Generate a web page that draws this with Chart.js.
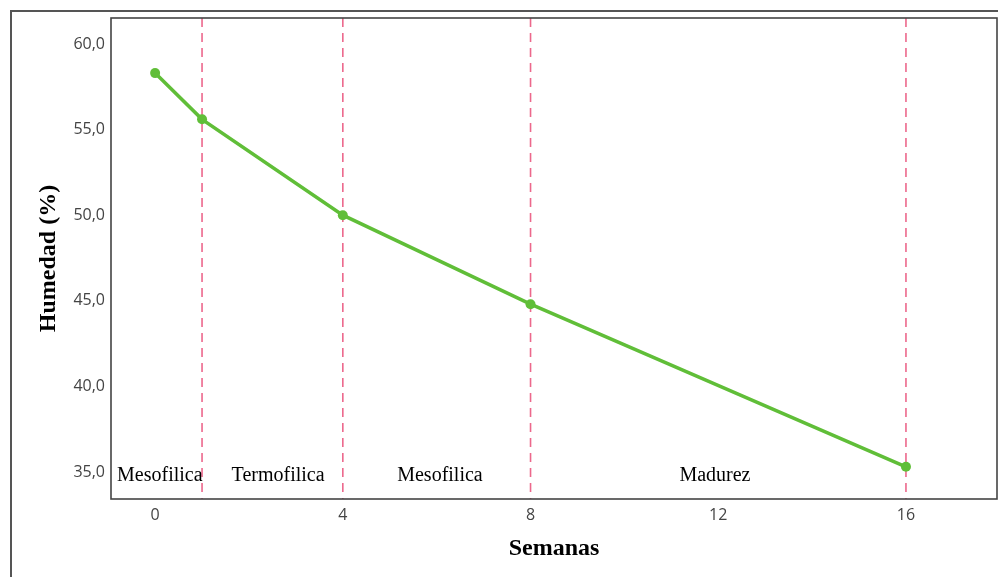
<!DOCTYPE html>
<html>
<head>
<meta charset="utf-8">
<script src="https://cdn.jsdelivr.net/npm/chart.js@4/dist/chart.umd.min.js"></script>
<style>
  html, body { margin: 0; padding: 0; background: #fff; }
  #wrap { width: 998px; height: 577px; }
</style>
</head>
<body>
<div id="wrap"><canvas id="graficoHumedad" width="998" height="577"></canvas></div>
<script>
// datos
const semanas = [0, 1, 4, 8, 16];
const humedad = [58.3, 55.6, 50.0, 44.8, 35.3];
const ticksX = [0, 4, 8, 12, 16];
const ticksY = [35, 40, 45, 50, 55, 60];
const limitesFase = [1, 4, 8, 16];
const faseNombres = ["Mesofilica", "Termofilica", "Mesofilica", "Madurez"];
const faseCentro = [0.1, 2.62, 6.07, 11.93];

const verde = "rgb(96, 190, 56)";
const rosa = "rgb(236, 104, 140)";

// lineas de fase, nombres y marcos
const fasesPlugin = {
  id: "fases",
  beforeDatasetsDraw(chart) {
    const { ctx, chartArea, scales } = chart;
    ctx.save();
    ctx.strokeStyle = rosa;
    ctx.lineWidth = 1.6;
    ctx.setLineDash([9, 6]);
    limitesFase.forEach((v) => {
      const x = scales.x.getPixelForValue(v);
      ctx.beginPath();
      ctx.moveTo(x, chartArea.top);
      ctx.lineTo(x, chartArea.bottom);
      ctx.stroke();
    });
    ctx.setLineDash([]);
    ctx.fillStyle = "#000";
    ctx.font = '20px "Liberation Serif"';
    ctx.textAlign = "center";
    ctx.textBaseline = "middle";
    faseNombres.forEach((n, i) => {
      ctx.fillText(n, scales.x.getPixelForValue(faseCentro[i]), scales.y.getPixelForValue(34.77));
    });
    ctx.restore();
  },
  afterDraw(chart) {
    const { ctx, chartArea } = chart;
    ctx.save();
    ctx.strokeStyle = "#444";
    ctx.lineWidth = 1.6;
    ctx.strokeRect(chartArea.left, chartArea.top, chartArea.right - chartArea.left, chartArea.bottom - chartArea.top);
    ctx.strokeStyle = "#555";
    ctx.lineWidth = 2;
    ctx.beginPath();
    ctx.moveTo(11, 577);
    ctx.lineTo(11, 11);
    ctx.lineTo(998, 11);
    ctx.stroke();
    ctx.restore();
  },
};

const ctx = document.getElementById("graficoHumedad").getContext("2d");
new Chart(ctx, {
  type: "line",
  data: {
    datasets: [
      {
        label: "Humedad",
        data: semanas.map((s, i) => ({ x: s, y: humedad[i] })),
        borderColor: verde,
        backgroundColor: verde,
        borderWidth: 3.5,
        pointRadius: 5,
        pointBorderWidth: 0,
        pointBackgroundColor: verde,
        tension: 0,
      },
    ],
  },
  options: {
    responsive: false,
    animation: false,
    layout: { autoPadding: false, padding: { top: 18, right: 1, left: 0, bottom: 0 } },
    plugins: { legend: { display: false }, tooltip: { enabled: false } },
    scales: {
      x: {
        type: "linear",
        min: -0.94,
        max: 17.94,
        afterBuildTicks: (scale) => {
          scale.ticks = ticksX.map((v) => ({ value: v }));
        },
        afterFit: (scale) => {
          scale.height = 78;
          scale.paddingLeft = 0;
          scale.paddingRight = 0;
        },
        grid: { display: false, drawTicks: false },
        border: { display: false },
        ticks: {
          padding: 7,
          color: "#444",
          font: { family: "Open Sans", size: 16 },
          maxRotation: 0,
        },
        title: {
          display: true,
          text: "Semanas",
          color: "#000",
          font: { family: "Liberation Serif", size: 24, weight: "bold" },
          padding: { top: 0, bottom: 14 },
        },
      },
      y: {
        min: 33.42,
        max: 61.52,
        afterBuildTicks: (scale) => {
          scale.ticks = ticksY.map((v) => ({ value: v }));
        },
        afterFit: (scale) => {
          scale.width = 111;
          scale.paddingTop = 0;
          scale.paddingBottom = 0;
        },
        grid: { display: false, drawTicks: false },
        border: { display: false },
        ticks: {
          padding: 6,
          color: "#444",
          font: { family: "Open Sans", size: 16 },
          callback: (v) => v.toFixed(1).replace(".", ","),
        },
        title: {
          display: true,
          text: "Humedad (%)",
          color: "#000",
          font: { family: "Liberation Serif", size: 24, weight: "bold" },
          padding: { top: 34, bottom: 0 },
        },
      },
    },
  },
  plugins: [fasesPlugin],
});
</script>
</body>
</html>
